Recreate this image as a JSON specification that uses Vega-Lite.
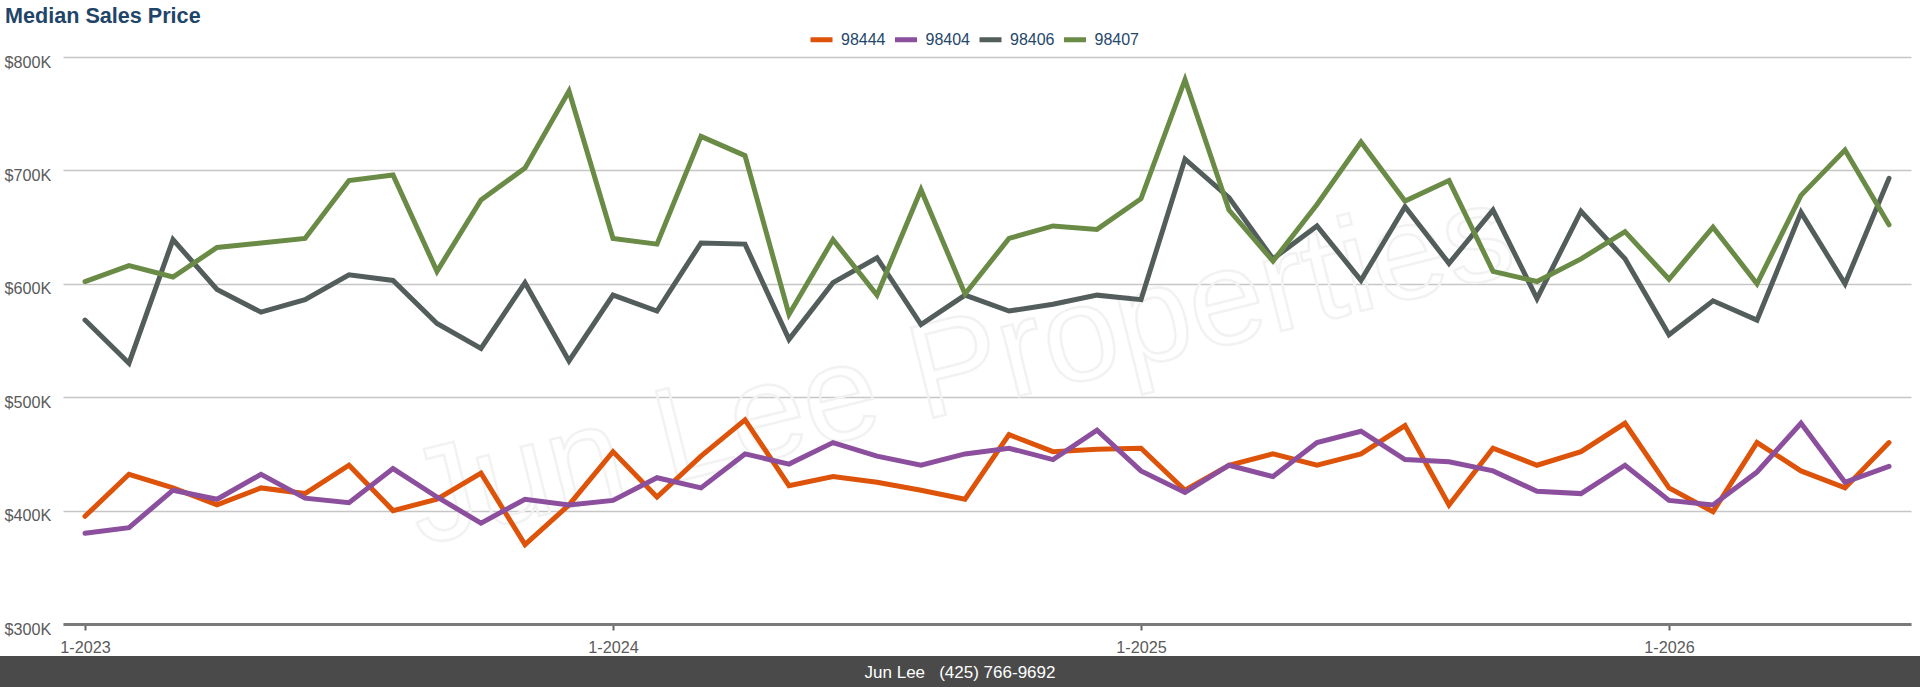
{
  "$schema": "https://vega.github.io/schema/vega-lite/v6.json",
  "background": "white",
  "padding": {"left": 0, "top": 5, "right": 0, "bottom": 0},
  "title": {"text": "Median Sales Price", "anchor": "start", "dx": 5, "fontSize": 21.6, "fontWeight": "bold", "color": "#1f4569", "font": "Liberation Sans", "offset": -1.5},
  "spacing": -1,
  "datasets": {
    "prices": [
      {"date":"1-2023","zip":"98444","price":395000},{"date":"2-2023","zip":"98444","price":432000},{"date":"3-2023","zip":"98444","price":420000},{"date":"4-2023","zip":"98444","price":405000},{"date":"5-2023","zip":"98444","price":420000},{"date":"6-2023","zip":"98444","price":415000},{"date":"7-2023","zip":"98444","price":440000},{"date":"8-2023","zip":"98444","price":400000},{"date":"9-2023","zip":"98444","price":410000},{"date":"10-2023","zip":"98444","price":433000},{"date":"11-2023","zip":"98444","price":370000},{"date":"12-2023","zip":"98444","price":405000},
      {"date":"1-2024","zip":"98444","price":452000},{"date":"2-2024","zip":"98444","price":412000},{"date":"3-2024","zip":"98444","price":448000},{"date":"4-2024","zip":"98444","price":480000},{"date":"5-2024","zip":"98444","price":422000},{"date":"6-2024","zip":"98444","price":430000},{"date":"7-2024","zip":"98444","price":425000},{"date":"8-2024","zip":"98444","price":418000},{"date":"9-2024","zip":"98444","price":410000},{"date":"10-2024","zip":"98444","price":467000},{"date":"11-2024","zip":"98444","price":452000},{"date":"12-2024","zip":"98444","price":454000},
      {"date":"1-2025","zip":"98444","price":455000},{"date":"2-2025","zip":"98444","price":418000},{"date":"3-2025","zip":"98444","price":440000},{"date":"4-2025","zip":"98444","price":450000},{"date":"5-2025","zip":"98444","price":440000},{"date":"6-2025","zip":"98444","price":450000},{"date":"7-2025","zip":"98444","price":475000},{"date":"8-2025","zip":"98444","price":405000},{"date":"9-2025","zip":"98444","price":455000},{"date":"10-2025","zip":"98444","price":440000},{"date":"11-2025","zip":"98444","price":452000},{"date":"12-2025","zip":"98444","price":477000},
      {"date":"1-2026","zip":"98444","price":420000},{"date":"2-2026","zip":"98444","price":399000},{"date":"3-2026","zip":"98444","price":460000},{"date":"4-2026","zip":"98444","price":435000},{"date":"5-2026","zip":"98444","price":420000},{"date":"6-2026","zip":"98444","price":460000},

      {"date":"1-2023","zip":"98404","price":380000},{"date":"2-2023","zip":"98404","price":385000},{"date":"3-2023","zip":"98404","price":418000},{"date":"4-2023","zip":"98404","price":410000},{"date":"5-2023","zip":"98404","price":432000},{"date":"6-2023","zip":"98404","price":411000},{"date":"7-2023","zip":"98404","price":407000},{"date":"8-2023","zip":"98404","price":437000},{"date":"9-2023","zip":"98404","price":412000},{"date":"10-2023","zip":"98404","price":389000},{"date":"11-2023","zip":"98404","price":410000},{"date":"12-2023","zip":"98404","price":405000},
      {"date":"1-2024","zip":"98404","price":409000},{"date":"2-2024","zip":"98404","price":429000},{"date":"3-2024","zip":"98404","price":420000},{"date":"4-2024","zip":"98404","price":450000},{"date":"5-2024","zip":"98404","price":441000},{"date":"6-2024","zip":"98404","price":460000},{"date":"7-2024","zip":"98404","price":448000},{"date":"8-2024","zip":"98404","price":440000},{"date":"9-2024","zip":"98404","price":450000},{"date":"10-2024","zip":"98404","price":455000},{"date":"11-2024","zip":"98404","price":445000},{"date":"12-2024","zip":"98404","price":471000},
      {"date":"1-2025","zip":"98404","price":435000},{"date":"2-2025","zip":"98404","price":416000},{"date":"3-2025","zip":"98404","price":440000},{"date":"4-2025","zip":"98404","price":430000},{"date":"5-2025","zip":"98404","price":460000},{"date":"6-2025","zip":"98404","price":470000},{"date":"7-2025","zip":"98404","price":445000},{"date":"8-2025","zip":"98404","price":443000},{"date":"9-2025","zip":"98404","price":435000},{"date":"10-2025","zip":"98404","price":417000},{"date":"11-2025","zip":"98404","price":415000},{"date":"12-2025","zip":"98404","price":440000},
      {"date":"1-2026","zip":"98404","price":409000},{"date":"2-2026","zip":"98404","price":405000},{"date":"3-2026","zip":"98404","price":434000},{"date":"4-2026","zip":"98404","price":477000},{"date":"5-2026","zip":"98404","price":425000},{"date":"6-2026","zip":"98404","price":439000},

      {"date":"1-2023","zip":"98406","price":568000},{"date":"2-2023","zip":"98406","price":530000},{"date":"3-2023","zip":"98406","price":639000},{"date":"4-2023","zip":"98406","price":595000},{"date":"5-2023","zip":"98406","price":575000},{"date":"6-2023","zip":"98406","price":586000},{"date":"7-2023","zip":"98406","price":608000},{"date":"8-2023","zip":"98406","price":603000},{"date":"9-2023","zip":"98406","price":565000},{"date":"10-2023","zip":"98406","price":543000},{"date":"11-2023","zip":"98406","price":601000},{"date":"12-2023","zip":"98406","price":532000},
      {"date":"1-2024","zip":"98406","price":590000},{"date":"2-2024","zip":"98406","price":576000},{"date":"3-2024","zip":"98406","price":636000},{"date":"4-2024","zip":"98406","price":635000},{"date":"5-2024","zip":"98406","price":551000},{"date":"6-2024","zip":"98406","price":601000},{"date":"7-2024","zip":"98406","price":623000},{"date":"8-2024","zip":"98406","price":564000},{"date":"9-2024","zip":"98406","price":590000},{"date":"10-2024","zip":"98406","price":576000},{"date":"11-2024","zip":"98406","price":582000},{"date":"12-2024","zip":"98406","price":590000},
      {"date":"1-2025","zip":"98406","price":586000},{"date":"2-2025","zip":"98406","price":710000},{"date":"3-2025","zip":"98406","price":676000},{"date":"4-2025","zip":"98406","price":622000},{"date":"5-2025","zip":"98406","price":651000},{"date":"6-2025","zip":"98406","price":603000},{"date":"7-2025","zip":"98406","price":668000},{"date":"8-2025","zip":"98406","price":618000},{"date":"9-2025","zip":"98406","price":665000},{"date":"10-2025","zip":"98406","price":587000},{"date":"11-2025","zip":"98406","price":664000},{"date":"12-2025","zip":"98406","price":622000},
      {"date":"1-2026","zip":"98406","price":555000},{"date":"2-2026","zip":"98406","price":585000},{"date":"3-2026","zip":"98406","price":568000},{"date":"4-2026","zip":"98406","price":663000},{"date":"5-2026","zip":"98406","price":600000},{"date":"6-2026","zip":"98406","price":693000},

      {"date":"1-2023","zip":"98407","price":602000},{"date":"2-2023","zip":"98407","price":616000},{"date":"3-2023","zip":"98407","price":606000},{"date":"4-2023","zip":"98407","price":632000},{"date":"5-2023","zip":"98407","price":636000},{"date":"6-2023","zip":"98407","price":640000},{"date":"7-2023","zip":"98407","price":691000},{"date":"8-2023","zip":"98407","price":696000},{"date":"9-2023","zip":"98407","price":611000},{"date":"10-2023","zip":"98407","price":674000},{"date":"11-2023","zip":"98407","price":702000},{"date":"12-2023","zip":"98407","price":770000},
      {"date":"1-2024","zip":"98407","price":640000},{"date":"2-2024","zip":"98407","price":635000},{"date":"3-2024","zip":"98407","price":730000},{"date":"4-2024","zip":"98407","price":713000},{"date":"5-2024","zip":"98407","price":573000},{"date":"6-2024","zip":"98407","price":639000},{"date":"7-2024","zip":"98407","price":590000},{"date":"8-2024","zip":"98407","price":683000},{"date":"9-2024","zip":"98407","price":591000},{"date":"10-2024","zip":"98407","price":640000},{"date":"11-2024","zip":"98407","price":651000},{"date":"12-2024","zip":"98407","price":648000},
      {"date":"1-2025","zip":"98407","price":675000},{"date":"2-2025","zip":"98407","price":780000},{"date":"3-2025","zip":"98407","price":665000},{"date":"4-2025","zip":"98407","price":620000},{"date":"5-2025","zip":"98407","price":670000},{"date":"6-2025","zip":"98407","price":725000},{"date":"7-2025","zip":"98407","price":673000},{"date":"8-2025","zip":"98407","price":691000},{"date":"9-2025","zip":"98407","price":611000},{"date":"10-2025","zip":"98407","price":602000},{"date":"11-2025","zip":"98407","price":622000},{"date":"12-2025","zip":"98407","price":646000},
      {"date":"1-2026","zip":"98407","price":604000},{"date":"2-2026","zip":"98407","price":650000},{"date":"3-2026","zip":"98407","price":600000},{"date":"4-2026","zip":"98407","price":678000},{"date":"5-2026","zip":"98407","price":718000},{"date":"6-2026","zip":"98407","price":652000}
    ]
  },
  "vconcat": [
    {
      "width": 1920,
      "height": 567,
      "layer": [
        {
          "data": {"values": [{"wm": "Jun Lee Properties"}]},
          "mark": {"type": "text", "angle": -14, "fontSize": 135, "font": "Liberation Sans", "fill": "transparent", "stroke": "#f2f2f2", "strokeWidth": 2.5},
          "encoding": {"text": {"field": "wm"}, "y": {"datum": 525000, "type": "quantitative"}}
        },
        {
          "data": {"name": "prices"},
          "mark": {"type": "line", "strokeWidth": 5, "strokeCap": "round"},
          "encoding": {
            "x": {
              "field": "date", "type": "ordinal", "sort": null,
              "scale": {"type": "point", "padding": 0.5, "range": [63, 1911]},
              "axis": {"title": null, "values": ["1-2023", "1-2024", "1-2025", "1-2026"], "labelAngle": 0, "grid": false, "domainColor": "#7a7a7a", "domainWidth": 3, "tickColor": "#666666", "tickWidth": 2, "tickSize": 6, "labelPadding": 9, "labelFontSize": 16.2, "labelColor": "#5a5a5a", "labelFont": "Liberation Sans"}
            },
            "y": {
              "field": "price", "type": "quantitative",
              "scale": {"domain": [300000, 800000], "nice": false, "zero": false},
              "axis": {"title": null, "values": [300000, 400000, 500000, 600000, 700000, 800000], "labelExpr": "'$' + format(datum.value / 1000, 'd') + 'K'", "grid": true, "gridColor": "#c6c6c6", "gridWidth": 1.5, "domain": false, "ticks": false, "tickSize": 0, "labelAlign": "left", "labelBaseline": "middle", "labelPadding": -4, "labelOffset": 5, "labelFontSize": 16.2, "labelColor": "#5a5a5a", "labelFont": "Liberation Sans"}
            },
            "color": {
              "field": "zip", "type": "nominal",
              "scale": {"domain": ["98444", "98404", "98406", "98407"], "range": ["#dc5309", "#8b4f9e", "#525d5c", "#6a8b46"]},
              "legend": {"title": "\u00a0", "titleOrient": "left", "titlePadding": 27, "titleFontSize": 16, "orient": "top", "direction": "horizontal", "symbolType": "stroke", "symbolStrokeWidth": 5, "symbolSize": 484, "labelFontSize": 16, "labelColor": "#24476b", "labelFont": "Liberation Sans", "labelOffset": 6, "columnPadding": -1.5, "padding": 0, "offset": 4}
            }
          }
        }
      ]
    },
    {
      "width": 1920,
      "height": 33,
      "view": {"fill": "#4a4a4a", "stroke": null},
      "data": {"values": [{"label": "Jun Lee\u00a0\u00a0\u00a0(425) 766-9692"}]},
      "mark": {"type": "text", "color": "#ffffff", "fontSize": 17, "font": "Liberation Sans"},
      "encoding": {"text": {"field": "label"}}
    }
  ],
  "config": {
    "view": {"stroke": null},
    "font": "Liberation Sans",
    "legend": {"layout": {"top": {"anchor": "middle"}}}
  }
}
